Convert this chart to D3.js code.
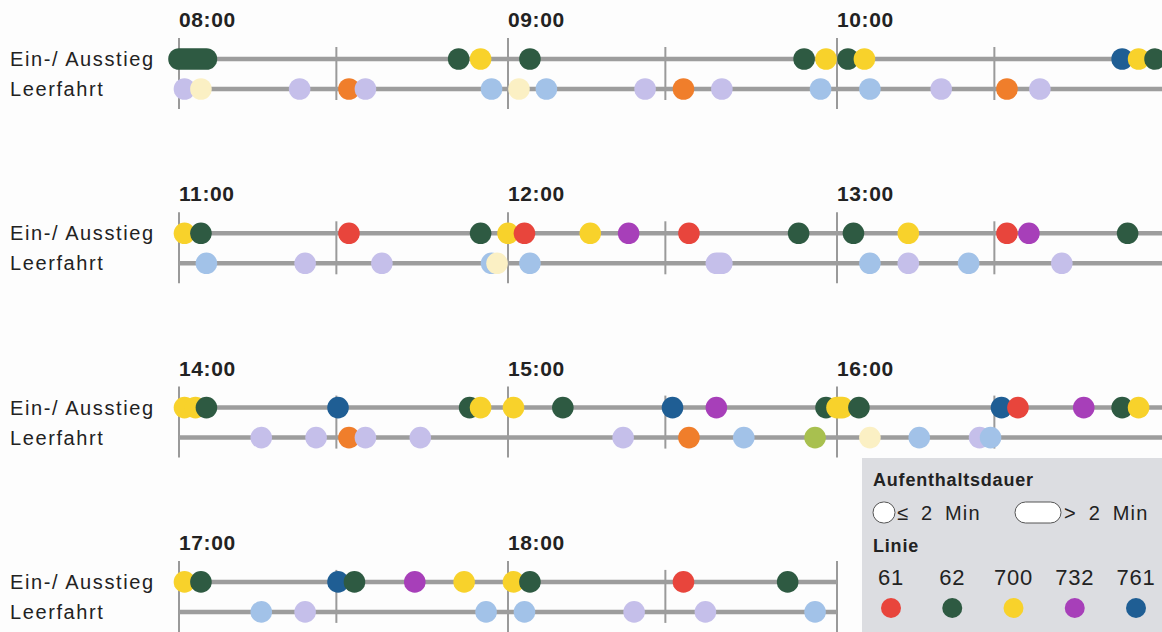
<!DOCTYPE html>
<html>
<head>
<meta charset="utf-8">
<script src="https://cdn.jsdelivr.net/npm/d3@7"></script>
<style>
  body { margin: 0; background: #fdfdfd; }
  svg { display: block; font-family: "Liberation Sans", Arial, sans-serif; }
</style>
</head>
<body>
<div id="chart"></div>
<script>
// rows of the timeline: first hour, number of hours
const rowStart = ["08:00", "11:00", "14:00", "17:00"];
const rowHours = [3, 3, 3, 2];
const rowNames = ["Ein-/ Ausstieg", "Leerfahrt"];
const halfTick = 28.7; // minutes past the hour, as drawn in the source

// legend
const linien = ["61", "62", "700", "732", "761"];
const linienColor = ["#e8453c", "#2e5a42", "#f8d22b", "#a73fb9", "#1f5e94"];
const leerKeys = ["lavendel", "hellblau", "orange", "creme", "oliv"];
const leerColor = ["#c5bfea", "#a2c2e8", "#f07e2b", "#fbf0c4", "#a8c04f"];

// Ein-/ Ausstieg: [start, end, linie]
const stops = [
  ["08:00", "08:05", "62"], ["08:51", "08:51", "62"], ["08:55", "08:55", "700"],
  ["09:04", "09:04", "62"], ["09:54", "09:54", "62"], ["09:58", "09:58", "700"],
  ["10:02", "10:02", "62"], ["10:05", "10:05", "700"], ["10:52", "10:52", "761"],
  ["10:55", "10:55", "700"], ["10:58", "10:58", "62"],
  ["11:01", "11:01", "700"], ["11:04", "11:04", "62"], ["11:31", "11:31", "61"],
  ["11:55", "11:55", "62"], ["12:00", "12:00", "700"], ["12:03", "12:03", "61"],
  ["12:15", "12:15", "700"], ["12:22", "12:22", "732"], ["12:33", "12:33", "61"],
  ["12:53", "12:53", "62"], ["13:03", "13:03", "62"], ["13:13", "13:13", "700"],
  ["13:31", "13:31", "61"], ["13:35", "13:35", "732"], ["13:53", "13:53", "62"],
  ["14:01", "14:01", "700"], ["14:03", "14:03", "700"], ["14:05", "14:05", "62"],
  ["14:29", "14:29", "761"], ["14:53", "14:53", "62"], ["14:55", "14:55", "700"],
  ["15:01", "15:01", "700"], ["15:10", "15:10", "62"], ["15:30", "15:30", "761"],
  ["15:38", "15:38", "732"], ["15:58", "15:58", "62"], ["16:00", "16:01", "700"],
  ["16:04", "16:04", "62"], ["16:30", "16:30", "761"], ["16:33", "16:33", "61"],
  ["16:45", "16:45", "732"], ["16:52", "16:52", "62"], ["16:55", "16:55", "700"],
  ["17:01", "17:01", "700"], ["17:04", "17:04", "62"], ["17:29", "17:29", "761"],
  ["17:32", "17:32", "62"], ["17:43", "17:43", "732"], ["17:52", "17:52", "700"],
  ["18:01", "18:01", "700"], ["18:04", "18:04", "62"], ["18:32", "18:32", "61"],
  ["18:51", "18:51", "62"]
];

// Leerfahrt: [start, end, colour key]
const empty = [
  ["08:01", "08:01", "lavendel"], ["08:04", "08:04", "creme"], ["08:22", "08:22", "lavendel"],
  ["08:31", "08:31", "orange"], ["08:34", "08:34", "lavendel"], ["08:57", "08:57", "hellblau"],
  ["09:02", "09:02", "creme"], ["09:07", "09:07", "hellblau"], ["09:25", "09:25", "lavendel"],
  ["09:32", "09:32", "orange"], ["09:39", "09:39", "lavendel"], ["09:57", "09:57", "hellblau"],
  ["10:06", "10:06", "hellblau"], ["10:19", "10:19", "lavendel"], ["10:31", "10:31", "orange"],
  ["10:37", "10:37", "lavendel"],
  ["11:05", "11:05", "hellblau"], ["11:23", "11:23", "lavendel"], ["11:37", "11:37", "lavendel"],
  ["11:57", "11:57", "hellblau"], ["11:58", "11:58", "creme"], ["12:04", "12:04", "hellblau"],
  ["12:38", "12:39", "lavendel"], ["13:06", "13:06", "hellblau"], ["13:13", "13:13", "lavendel"],
  ["13:24", "13:24", "hellblau"], ["13:41", "13:41", "lavendel"],
  ["14:15", "14:15", "lavendel"], ["14:25", "14:25", "lavendel"], ["14:31", "14:31", "orange"],
  ["14:34", "14:34", "lavendel"], ["14:44", "14:44", "lavendel"], ["15:21", "15:21", "lavendel"],
  ["15:33", "15:33", "orange"], ["15:43", "15:43", "hellblau"], ["15:56", "15:56", "oliv"],
  ["16:06", "16:06", "creme"], ["16:15", "16:15", "hellblau"], ["16:26", "16:26", "lavendel"],
  ["16:28", "16:28", "hellblau"],
  ["17:15", "17:15", "hellblau"], ["17:23", "17:23", "lavendel"], ["17:56", "17:56", "hellblau"],
  ["18:03", "18:03", "hellblau"], ["18:23", "18:23", "lavendel"], ["18:36", "18:36", "lavendel"],
  ["18:56", "18:56", "hellblau"]
];

//size
const width = 1162;
const height = 632;
const left = 179;
const hourWidth = 329;
const firstRowY = 59;
const rowGap = 174.3;
const laneGap = 30;
const r = 10.8;
const ink = "#222";

const toMin = (s) => { const p = s.split(":"); return +p[0] * 60 + +p[1]; };

const lineColor = d3.scaleOrdinal().domain(linien).range(linienColor);
const leerScale = d3.scaleOrdinal().domain(leerKeys).range(leerColor);

const svg = d3.select("#chart").append("svg")
  .attr("width", width).attr("height", height);

const rows = rowStart.map((s, i) => {
  const start = toMin(s);
  const end = start + rowHours[i] * 60;
  return {
    i, start, end,
    y: firstRowY + i * rowGap,
    x: d3.scaleLinear().domain([start, end]).range([left, left + rowHours[i] * hourWidth])
  };
});

const rowOf = (t) => rows.find((row) => t >= row.start && t < row.end);

rows.forEach((row) => {
  const g = svg.append("g");
  const yE = row.y, yL = row.y + laneGap;

  // lane labels
  g.selectAll("text.lane").data(rowNames).join("text")
    .attr("class", "lane")
    .attr("x", 10).attr("y", (d, k) => yE + k * laneGap)
    .attr("dominant-baseline", "central")
    .attr("font-size", 20).attr("letter-spacing", 1.6).attr("fill", ink)
    .text((d) => d);

  // ticks
  const hours = d3.range(row.start, row.end + 1, 60);
  const halves = d3.range(row.start + halfTick, row.end, 60);
  const lastRow = row.i === rows.length - 1;
  g.selectAll("line.hour").data(lastRow ? hours : hours.slice(0, -1)).join("line")
    .attr("class", "hour")
    .attr("x1", (d) => row.x(d)).attr("x2", (d) => row.x(d))
    .attr("y1", yE - 21).attr("y2", yL + 20)
    .attr("stroke", "#9a9a9a").attr("stroke-width", 2);
  g.selectAll("line.half").data(halves).join("line")
    .attr("class", "half")
    .attr("x1", (d) => row.x(d)).attr("x2", (d) => row.x(d))
    .attr("y1", yE - 12).attr("y2", yL + 11)
    .attr("stroke", "#9a9a9a").attr("stroke-width", 2);

  // lanes
  g.selectAll("line.lane").data([yE, yL]).join("line")
    .attr("class", "lane")
    .attr("x1", row.x(row.start)).attr("x2", row.x(row.end))
    .attr("y1", (d) => d).attr("y2", (d) => d)
    .attr("stroke", "#9d9d9d").attr("stroke-width", 4.5);

  // hour labels
  g.selectAll("text.hour").data(hours.slice(0, -1)).join("text")
    .attr("class", "hour")
    .attr("x", (d) => row.x(d)).attr("y", yE - 32)
    .attr("font-size", 21).attr("font-weight", "bold").attr("letter-spacing", 0.6)
    .attr("fill", ink)
    .text((d) => d3.format("02")(d / 60) + ":00");
});

function drawStops(data, lane, colorOf) {
  const items = data.map((d) => {
    const s = toMin(d[0]), e = toMin(d[1]);
    const row = rowOf(s);
    return { x0: row.x(s), x1: row.x(e), y: row.y + lane * laneGap, c: colorOf(d[2]) };
  });
  svg.append("g").selectAll("rect").data(items).join("rect")
    .attr("x", (d) => d.x0 - r).attr("y", (d) => d.y - r)
    .attr("width", (d) => d.x1 - d.x0 + 2 * r).attr("height", 2 * r)
    .attr("rx", r).attr("fill", (d) => d.c);
}
drawStops(stops, 0, lineColor);
drawStops(empty, 1, leerScale);

// legend
const lg = svg.append("g").attr("transform", "translate(862,458)");
lg.append("rect").attr("width", 300).attr("height", 174).attr("fill", "#dcdde1");
lg.append("text").attr("x", 11).attr("y", 28)
  .attr("font-size", 18).attr("font-weight", "bold").attr("letter-spacing", 0.8).attr("fill", ink)
  .text("Aufenthaltsdauer");
lg.append("rect").attr("x", 11).attr("y", 44).attr("width", 22).attr("height", 21).attr("rx", 10.5)
  .attr("fill", "#fff").attr("stroke", "#555").attr("stroke-width", 1);
lg.append("text").attr("x", 35).attr("y", 62).attr("font-size", 20)
  .attr("letter-spacing", 1.2).attr("word-spacing", 5).attr("fill", ink).text("≤ 2 Min");
lg.append("rect").attr("x", 153).attr("y", 44).attr("width", 46).attr("height", 21).attr("rx", 10.5)
  .attr("fill", "#fff").attr("stroke", "#555").attr("stroke-width", 1);
lg.append("text").attr("x", 202).attr("y", 62).attr("font-size", 20)
  .attr("letter-spacing", 1.2).attr("word-spacing", 5).attr("fill", ink).text("> 2 Min");
lg.append("text").attr("x", 11).attr("y", 94)
  .attr("font-size", 18).attr("font-weight", "bold").attr("letter-spacing", 0.8).attr("fill", ink)
  .text("Linie");

const lx = d3.scalePoint().domain(linien).range([29, 274]);
lg.selectAll("text.num").data(linien).join("text")
  .attr("class", "num")
  .attr("x", (d) => lx(d)).attr("y", 127)
  .attr("text-anchor", "middle").attr("font-size", 22).attr("letter-spacing", 0.8).attr("fill", ink)
  .text((d) => d);
lg.selectAll("circle").data(linien).join("circle")
  .attr("cx", (d) => lx(d)).attr("cy", 150).attr("r", 10)
  .attr("fill", (d) => lineColor(d));
</script>
</body>
</html>
